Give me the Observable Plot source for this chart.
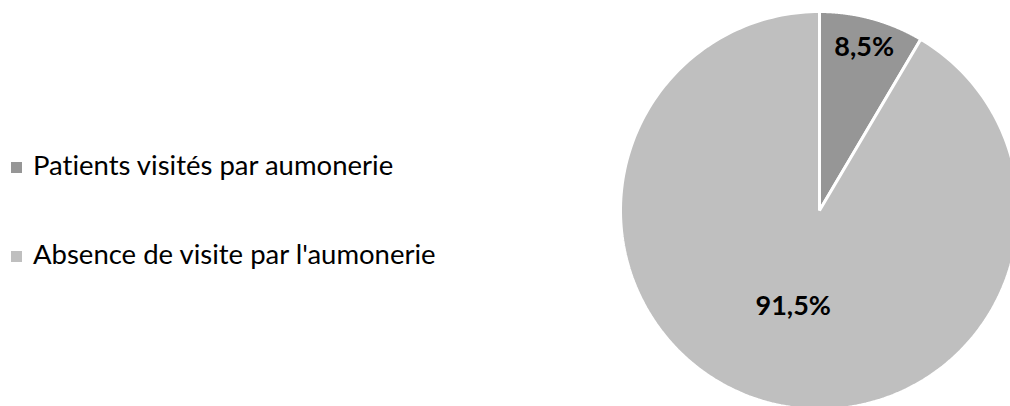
<!DOCTYPE html>
<html>
<head>
<meta charset="utf-8">
<script src="https://cdn.jsdelivr.net/npm/d3@7"></script>
<script src="https://cdn.jsdelivr.net/npm/@observablehq/plot@0.6"></script>
<style>
  html, body { margin: 0; padding: 0; background: #fff; }
  #wrap { position: relative; width: 1010px; height: 406px; overflow: hidden; }
  #legend { position: absolute; left: 0; top: 0; font-family: Lato, "Open Sans", sans-serif; font-size: 27.5px; color: #000; font-variant-ligatures: none; }
  .item { position: absolute; left: 11px; white-space: nowrap; display: flex; align-items: center; line-height: 32px; }
  .sw { width: 11px; height: 11px; margin-right: 11px; position: relative; top: 2px; }
  svg text { font-variant-ligatures: none; }
</style>
</head>
<body>
<div id="wrap"><div id="legend"></div></div>
<script>
const categories = ["Patients visités par aumonerie", "Absence de visite par l'aumonerie"];
const values = [8.5, 91.5];
const labels = ["8,5%", "91,5%"];
const colors = ["#969696", "#bfbfbf"];

const pie = d3.pie().sort(null).value(d => d.value);
const arcs = pie(categories.map((c, i) => ({cat: c, value: values[i], label: labels[i]})));

// polygon outline for each slice (center + arc), in unit-circle data space
const pts = [];
for (const a of arcs) {
  pts.push({cat: a.data.cat, x: 0, y: 0});
  const n = 240;
  for (let k = 0; k <= n; k++) {
    const t = a.startAngle + (a.endAngle - a.startAngle) * k / n;
    pts.push({cat: a.data.cat, x: Math.sin(t), y: Math.cos(t)});
  }
}
const labelR = [0.85, 0.5];
const labelPts = arcs.map((a, i) => {
  const m = (a.startAngle + a.endAngle) / 2;
  return {label: a.data.label, x: labelR[i] * Math.sin(m), y: labelR[i] * Math.cos(m)};
});

const cx = 819, cy = 210, r = 199;
const chart = Plot.plot({
  width: 1010,
  height: 406,
  margin: 0,
  x: {domain: [-1, 1], range: [cx - r, cx + r], axis: null},
  y: {domain: [-1, 1], range: [cy + r, cy - r], axis: null},
  color: {domain: categories, range: colors},
  style: {background: "white"},
  marks: [
    Plot.line(pts, {x: "x", y: "y", z: "cat", fill: "cat", stroke: "white", strokeWidth: 3, strokeLinejoin: "miter", curve: "linear-closed"}),
    Plot.text(labelPts, {x: "x", y: "y", text: "label", fontSize: 27, fontWeight: "bold", fill: "black", fontFamily: "Lato, 'Open Sans', sans-serif"})
  ]
});
chart.style.position = "absolute";
chart.style.left = "0";
chart.style.top = "0";
const wrap = document.getElementById("wrap");
wrap.insertBefore(chart, wrap.firstChild);

const legend = document.getElementById("legend");
const tops = [149, 238];
categories.forEach((c, i) => {
  const it = document.createElement("div");
  it.className = "item";
  it.style.top = tops[i] + "px";
  const sw = document.createElement("span");
  sw.className = "sw";
  sw.style.background = colors[i];
  const tx = document.createElement("span");
  tx.textContent = c;
  it.appendChild(sw); it.appendChild(tx);
  legend.appendChild(it);
});
</script>
</body>
</html>
